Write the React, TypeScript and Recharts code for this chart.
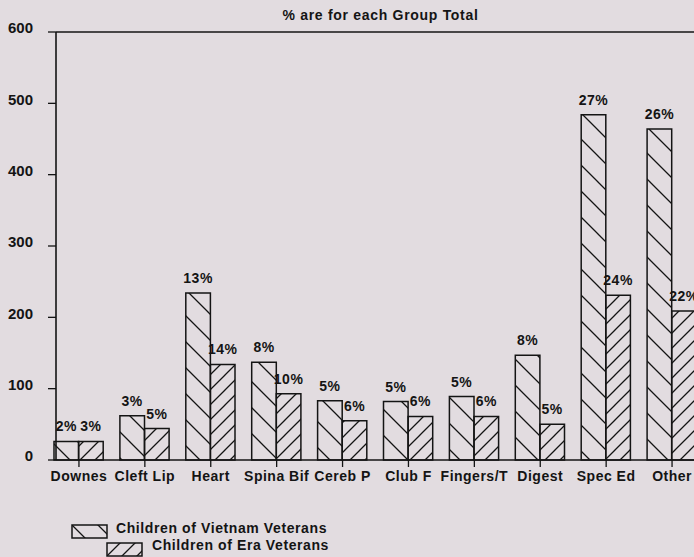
import React from 'react';
import { BarChart, Bar, XAxis, YAxis, ReferenceLine, LabelList, Legend } from 'recharts';

const categories = ['Downes', 'Cleft Lip', 'Heart', 'Spina Bif', 'Cereb P', 'Club F', 'Fingers/T', 'Digest', 'Spec Ed', 'Other'];
const vietnamCounts = [26, 62, 234, 137, 83, 82, 89, 147, 484, 464];
const eraCounts = [26, 44, 134, 93, 55, 61, 61, 50, 231, 209];
const vietnamPct = ['2%', '3%', '13%', '8%', '5%', '5%', '5%', '8%', '27%', '26%'];
const eraPct = ['3%', '5%', '14%', '10%', '6%', '6%', '6%', '5%', '24%', '22%'];
const yTicks = [0, 100, 200, 300, 400, 500, 600];
const chartTitle = '% are for each Group Total';
const seriesNames = ['Children of Vietnam Veterans', 'Children of Era Veterans'];

const data = categories.map((name, i) => ({
  name,
  vietnam: vietnamCounts[i],
  era: eraCounts[i],
  vietnamPct: vietnamPct[i],
  eraPct: eraPct[i],
}));

const ink = '#141414';
const font = '"Liberation Sans", Arial, sans-serif';
const textStyle = { fontFamily: font, fontSize: 14, fontWeight: 700, fill: ink, letterSpacing: 0.5 };

// legend placement, page pixels
const legendBoxes = [
  { left: 72, top: 525, textLeft: 116, textTop: 521 },
  { left: 107, top: 543, textLeft: 152, textTop: 538 },
];

function renderLegend(props: any) {
  const payload = props.payload || [];
  return (
    <div style={{ position: 'relative', width: 694, height: 557 }}>
      {payload.map((entry: any) => {
        const idx = seriesNames.indexOf(entry.value);
        const pos = legendBoxes[idx];
        const pat = idx === 0 ? 'url(#vietPat)' : 'url(#eraPat)';
        return (
          <React.Fragment key={entry.value}>
            <svg
              width={37}
              height={16}
              style={{ position: 'absolute', left: pos.left - 1, top: pos.top - 1 }}
            >
              <rect x={1} y={1} width={35} height={13} fill={pat} stroke={ink} strokeWidth={1.5} />
            </svg>
            <div
              style={{
                position: 'absolute',
                left: pos.textLeft,
                top: pos.textTop,
                lineHeight: '14px',
                fontFamily: font,
                fontSize: 14,
                fontWeight: 700,
                letterSpacing: 0.6,
                color: ink,
                whiteSpace: 'nowrap',
              }}
            >
              {entry.value}
            </div>
          </React.Fragment>
        );
      })}
    </div>
  );
}

export default function App() {
  return (
    <div
      style={{
        position: 'fixed',
        left: 0,
        top: 0,
        width: 694,
        height: 557,
        overflow: 'hidden',
        background: '#e2dce0',
      }}
    >
      <BarChart
        width={720}
        height={557}
        data={data}
        margin={{ top: 32, right: 15, bottom: 67, left: 0 }}
        barSize={24.6}
        barGap={0}
      >
        <defs>
          <pattern id="vietPat" patternUnits="userSpaceOnUse" width={26} height={26}>
            <path d="M0,0 L26,26 M-3,23 L3,29 M23,-3 L29,3" stroke={ink} strokeWidth={1.3} />
          </pattern>
          <pattern id="eraPat" patternUnits="userSpaceOnUse" width={15} height={15}>
            <path d="M0,15 L15,0 M-3,3 L3,-3 M12,18 L18,12" stroke={ink} strokeWidth={1.3} />
          </pattern>
        </defs>
        <XAxis
          dataKey="name"
          interval={0}
          padding={{ left: -10, right: 0 }}
          height={30}
          tickSize={7}
          tickMargin={4}
          axisLine={{ stroke: ink, strokeWidth: 1.6 }}
          tickLine={{ stroke: ink, strokeWidth: 1.3 }}
          tick={textStyle}
        />
        <YAxis
          width={56}
          domain={[0, 600]}
          ticks={yTicks}
          tickSize={8}
          tickMargin={15}
          axisLine={{ stroke: ink, strokeWidth: 1.6 }}
          tickLine={{ stroke: ink, strokeWidth: 1.3 }}
          tick={{ ...textStyle, fontSize: 15, letterSpacing: 0, dy: -4 }}
        />
        <ReferenceLine
          y={600}
          stroke={ink}
          strokeWidth={1.6}
          label={{ value: chartTitle, position: 'top', offset: 12, ...textStyle, fontSize: 14, letterSpacing: 0.7 }}
        />
        <Bar
          dataKey="vietnam"
          name={seriesNames[0]}
          fill="url(#vietPat)"
          stroke={ink}
          strokeWidth={1.5}
          isAnimationActive={false}
        >
          <LabelList dataKey="vietnamPct" position="top" offset={10} style={textStyle} />
        </Bar>
        <Bar
          dataKey="era"
          name={seriesNames[1]}
          fill="url(#eraPat)"
          stroke={ink}
          strokeWidth={1.5}
          isAnimationActive={false}
        >
          <LabelList dataKey="eraPct" position="top" offset={10} style={textStyle} />
        </Bar>
        <Legend
          verticalAlign="middle"
          align="center"
          wrapperStyle={{ left: 0, top: 0, width: 694, height: 557, pointerEvents: 'none' }}
          content={renderLegend}
        />
      </BarChart>
    </div>
  );
}
